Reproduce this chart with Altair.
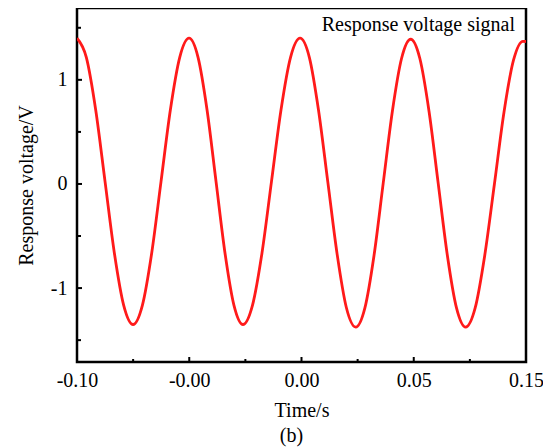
import altair as alt
import pandas as pd

# Read-off samples of the response voltage curve (time in s, voltage in V)
time_s = [
    -0.1000, -0.0948, -0.0896, -0.0844, -0.0792, -0.0740,
    -0.0688, -0.0636, -0.0584, -0.0532, -0.0480, -0.0428,
    -0.0376, -0.0326, -0.0276, -0.0226, -0.0176, -0.0126,
    -0.0076, -0.0023, 0.0030, 0.0083, 0.0136, 0.0189,
    0.0242, 0.0294, 0.0345, 0.0397, 0.0449, 0.0500,
    0.0552, 0.0603, 0.0654, 0.0705, 0.0756, 0.0807,
    0.0858, 0.0909, 0.0960, 0.1011, 0.1062, 0.1113,
    0.1164, 0.1217, 0.1270, 0.1324, 0.1377, 0.1430,
    0.1483, 0.1500,
]
voltage_v = [
    1.400, 1.216, 0.713, 0.025, -0.663, -1.166,
    -1.350, -1.166, -0.663, 0.025, 0.713, 1.216,
    1.400, 1.216, 0.713, 0.025, -0.663, -1.166,
    -1.350, -1.166, -0.663, 0.025, 0.713, 1.216,
    1.400, 1.214, 0.706, 0.013, -0.681, -1.189,
    -1.375, -1.190, -0.684, 0.008, 0.699, 1.205,
    1.390, 1.205, 0.699, 0.008, -0.684, -1.190,
    -1.375, -1.191, -0.689, -0.003, 0.684, 1.186,
    1.370, 1.368,
]

x_major = [-0.1, -0.0375, 0.025, 0.0875, 0.15]
x_minor = [-0.06875, -0.00625, 0.05625, 0.11875]
y_major = [-1, 0, 1]
y_minor = [-1.5, -0.5, 0.5, 1.5]

x_domain = [-0.1, 0.15]
y_domain = [-1.71, 1.69]

W, H = 449, 354
FONT = "Liberation Serif"

df = pd.DataFrame({"t": time_s, "v": voltage_v})

xs = alt.Scale(domain=x_domain, nice=False, zero=False)
ys = alt.Scale(domain=y_domain, nice=False, zero=False)

label_expr = ("datum.value < -0.06 ? '-0.10' : datum.value < 0 ? '-0.00' : "
              "datum.value < 0.05 ? '0.00' : datum.value < 0.12 ? '0.05' : '0.15'")

line = alt.Chart(df).mark_line(color="#ff1a1a", strokeWidth=2.8, interpolate="monotone", clip=True).encode(
    x=alt.X("t:Q", scale=xs,
            axis=alt.Axis(title="Time/s", values=x_major, labelExpr=label_expr,
                          grid=False, domain=False, ticks=False,
                          labelFont=FONT, labelFontSize=20, labelColor="black",
                          labelPadding=8, labelFlush=False,
                          titleFont=FONT, titleFontSize=20, titleFontWeight="normal",
                          titleColor="black", titlePadding=10)),
    y=alt.Y("v:Q", scale=ys,
            axis=alt.Axis(title="Response voltage/V", values=y_major,
                          labelExpr="'' + datum.value",
                          grid=False, domain=False, ticks=False,
                          labelFont=FONT, labelFontSize=20, labelColor="black",
                          labelPadding=10,
                          titleFont=FONT, titleFontSize=20, titleFontWeight="normal",
                          titleColor="black", titlePadding=14)),
)

def xticks(vals, size):
    return alt.Chart(pd.DataFrame({"t": vals})).mark_rule(color="black", strokeWidth=2).encode(
        x=alt.X("t:Q", scale=xs), y=alt.value(H), y2=alt.value(H - size))

def yticks(vals, size):
    return alt.Chart(pd.DataFrame({"v": vals})).mark_rule(color="black", strokeWidth=2).encode(
        y=alt.Y("v:Q", scale=ys), x=alt.value(0), x2=alt.value(size))

legend_text = alt.Chart(pd.DataFrame({"s": ["Response voltage signal"]})).mark_text(
    font=FONT, fontSize=20, color="black", align="right", baseline="alphabetic"
).encode(text="s:N", x=alt.value(438), y=alt.value(23))

caption = alt.Chart(pd.DataFrame({"s": ["(b)"]})).mark_text(
    font=FONT, fontSize=20, color="black", align="center", baseline="middle"
).encode(text="s:N", x=alt.value(W / 2 - 10), y=alt.value(H + 74))

chart = alt.layer(
    line,
    xticks(x_major, 5), xticks(x_minor, 3),
    yticks(y_major, 5), yticks(y_minor, 4),
    legend_text, caption,
).properties(
    width=W, height=H,
    autosize=alt.AutoSizeParams(type="none"),
    padding={"left": 69, "top": 0, "right": 17, "bottom": 86},
).configure_view(stroke="black", strokeWidth=2.5)

chart.save("out.html", embed_options={"renderer": "svg", "actions": False})
